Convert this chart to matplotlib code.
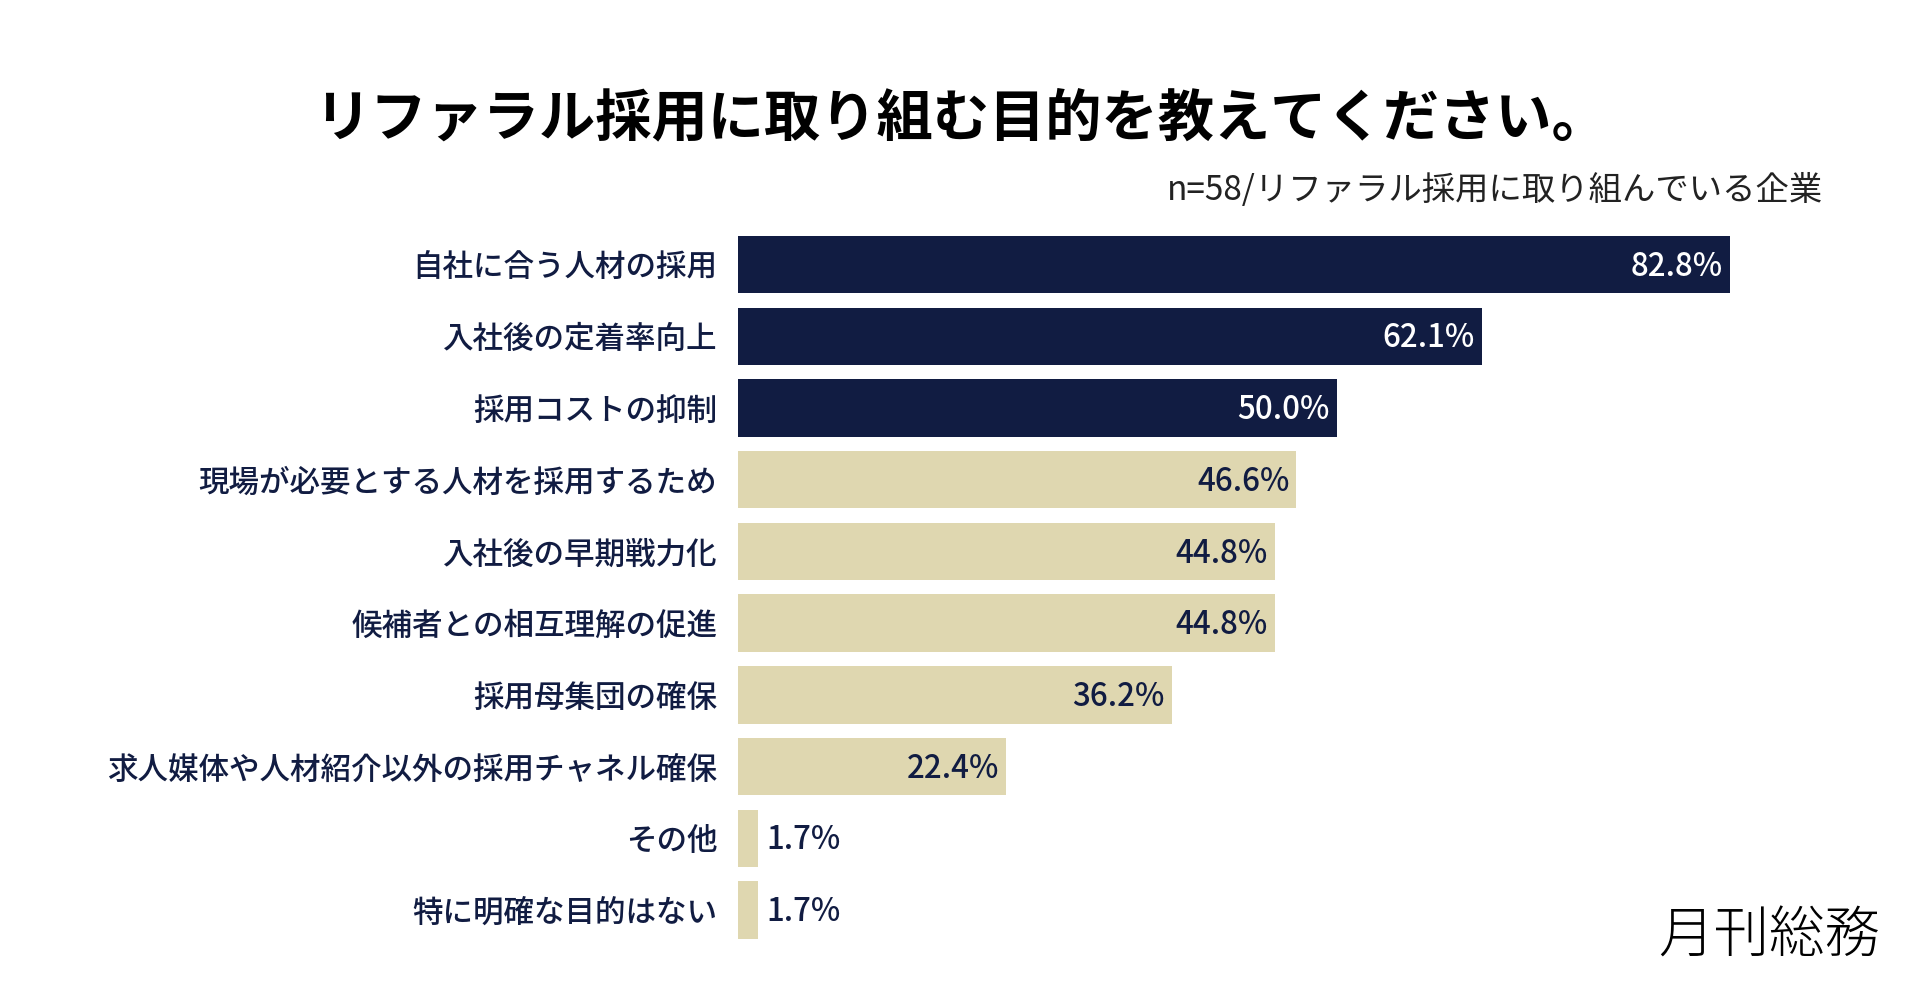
import matplotlib
matplotlib.use('Agg')
import matplotlib.pyplot as plt
import numpy as np

plt.rcParams['font.family'] = ['Noto Sans CJK JP', 'DejaVu Sans']

# データ
categories = ['自社に合う人材の採用', '入社後の定着率向上', '採用コストの抑制',
              '現場が必要とする人材を採用するため', '入社後の早期戦力化',
              '候補者との相互理解の促進', '採用母集団の確保',
              '求人媒体や人材紹介以外の採用チャネル確保', 'その他', '特に明確な目的はない']
values = [82.8, 62.1, 50.0, 46.6, 44.8, 44.8, 36.2, 22.4, 1.7, 1.7]
n_top = 3  # 上位3項目を強調

title = 'リファラル採用に取り組む目的を教えてください。'
subtitle = 'n=58/リファラル採用に取り組んでいる企業'
logo = '月刊総務'

navy = '#111C42'
beige = '#DFD7B0'

fig = plt.figure(figsize=(19.2, 10.05), dpi=100)
ax = fig.add_axes([738 / 1920, 0.0587, 1162 / 1920, 0.7138])

y = np.arange(len(categories))
colors = [navy if i < n_top else beige for i in range(len(categories))]
bars = ax.barh(y, values, height=0.8, color=colors)

ax.set_xlim(0, 97.0)
ax.set_ylim(len(categories) - 0.5, -0.5)
ax.set_yticks(y)
ax.set_yticklabels(categories, fontsize=22, color=navy, fontweight='medium')
ax.tick_params(axis='y', length=0, pad=15)
ax.set_xticks([])
for s in ax.spines.values():
    s.set_visible(False)

# 数値ラベル
for i, (b, v) in enumerate(zip(bars, values)):
    txt = f'{v:.1f}%'
    if v < 10:
        ax.annotate(txt, (v, i), xytext=(6, -1.5), textcoords='offset points',
                    ha='left', va='center', fontsize=22.5, color=navy, fontweight='medium')
    else:
        c = 'white' if i < n_top else navy
        ax.annotate(txt, (v, i), xytext=(-5, -1.5), textcoords='offset points',
                    ha='right', va='center', fontsize=22.5, color=c, fontweight='medium')

fig.text(961 / 1920, 1 - 119 / 1005, title, ha='center', va='center',
         fontsize=40.5, fontweight='bold', color='black')
fig.text(1823 / 1920, 1 - 191 / 1005, subtitle, ha='right', va='center',
         fontsize=24, color='#222222')
fig.text(1880 / 1920, 1 - 936 / 1005, logo, ha='right', va='center',
         fontsize=40, fontweight='light', color='black')

fig.savefig('out.png', dpi=100, facecolor='white')
